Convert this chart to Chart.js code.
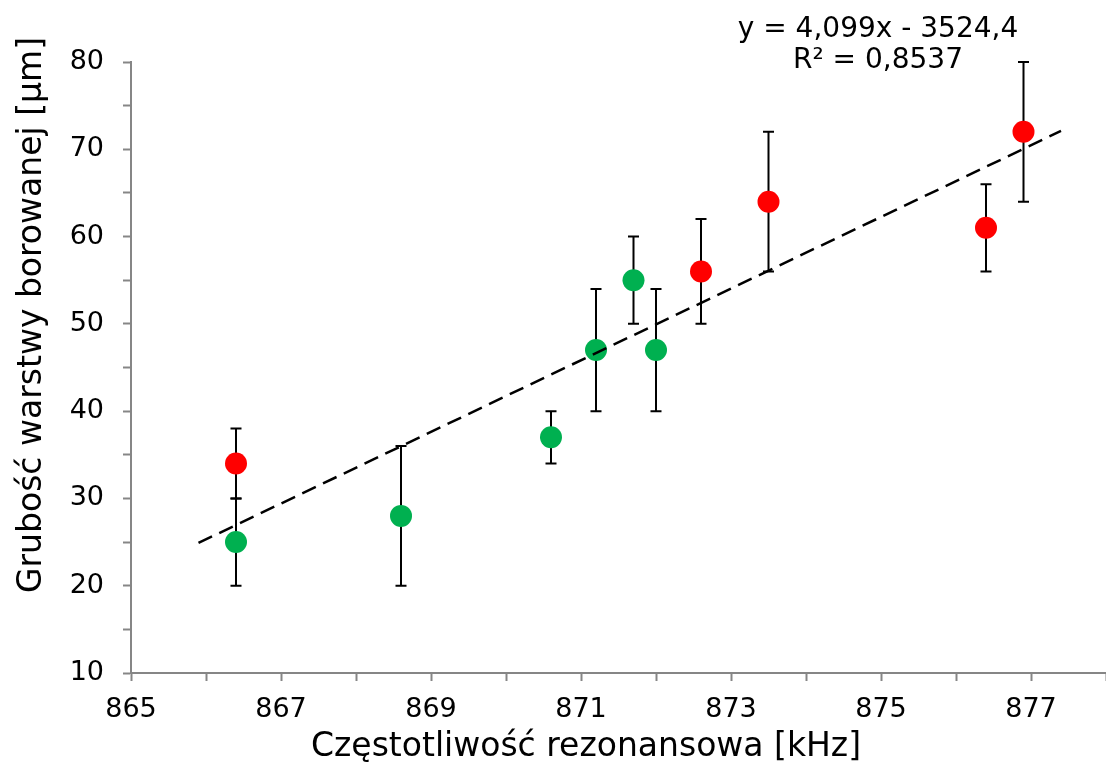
<!DOCTYPE html>
<html lang="pl">
<head>
<meta charset="UTF-8">
<title>Grubość warstwy borowanej</title>
<script src="https://cdn.jsdelivr.net/npm/chart.js"></script>
<style>
  html, body { margin: 0; padding: 0; background: #fff; }
  #wrap { width: 1106px; height: 778px; }
</style>
</head>
<body>
<div id="wrap"><canvas id="chart"></canvas></div>
<script>
// pomiary - punkty czerwone
const redX = [866.4, 872.6, 873.5, 876.4, 876.9];
const redY = [34, 56, 64, 61, 72];
const redLow = [30, 50, 56, 56, 64];
const redHigh = [38, 62, 72, 66, 80];

// pomiary - punkty zielone
const greenX = [866.4, 868.6, 870.6, 871.2, 871.7, 872.0];
const greenY = [25, 28, 37, 47, 55, 47];
const greenLow = [20, 20, 34, 40, 50, 40];
const greenHigh = [30, 36, 40, 54, 60, 54];

// linia trendu
const trendX = [865.9, 877.4];
const trendY = [24.9, 72.1];

const equation = ['y = 4,099x - 3524,4', 'R² = 0,8537'];
const xTitle = 'Częstotliwość rezonansowa [kHz]';
const yTitle = 'Grubość warstwy borowanej [µm]';

const FONT = "'DejaVu Sans', Verdana, sans-serif";
const toPoints = (xs, ys) => xs.map((x, i) => ({ x: x, y: ys[i] }));

// słupki błędów pod punktami
const errorBars = {
  id: 'errorBars',
  beforeDatasetsDraw(chart) {
    const { ctx, scales: { x, y } } = chart;
    ctx.save();
    ctx.strokeStyle = '#000';
    ctx.lineWidth = 2;
    chart.data.datasets.forEach(ds => {
      if (!ds.errLow) return;
      ds.data.forEach((p, i) => {
        const px = x.getPixelForValue(p.x);
        const lo = y.getPixelForValue(ds.errLow[i]);
        const hi = y.getPixelForValue(ds.errHigh[i]);
        ctx.beginPath();
        ctx.moveTo(px, lo); ctx.lineTo(px, hi);
        ctx.moveTo(px - 5.5, lo); ctx.lineTo(px + 5.5, lo);
        ctx.moveTo(px - 5.5, hi); ctx.lineTo(px + 5.5, hi);
        ctx.stroke();
      });
    });
    ctx.restore();
  }
};

// tytuły osi i równanie
const labels = {
  id: 'labels',
  afterDraw(chart) {
    const ctx = chart.ctx;
    ctx.save();
    ctx.fillStyle = '#000';
    ctx.textAlign = 'center';
    ctx.textBaseline = 'middle';
    ctx.font = '28px ' + FONT;
    ctx.fillText(equation[0], 878, 30);
    ctx.fillText(equation[1], 878, 61);
    ctx.font = '33px ' + FONT;
    ctx.fillText(xTitle, 586, 747);
    ctx.translate(32, 315);
    ctx.rotate(-Math.PI / 2);
    ctx.fillText(yTitle, 0, 0);
    ctx.restore();
  }
};

const axisColor = '#868686';

new Chart(document.getElementById('chart'), {
  type: 'scatter',
  data: {
    datasets: [
      {
        label: 'trend',
        type: 'line',
        data: toPoints(trendX, trendY),
        borderColor: '#000',
        borderWidth: 2.5,
        borderDash: [15, 8],
        pointRadius: 0,
        fill: false,
        order: 0
      },
      {
        label: 'czerwone',
        data: toPoints(redX, redY),
        errLow: redLow,
        errHigh: redHigh,
        backgroundColor: '#ff0000',
        borderWidth: 0,
        pointRadius: 11,
        order: 1
      },
      {
        label: 'zielone',
        data: toPoints(greenX, greenY),
        errLow: greenLow,
        errHigh: greenHigh,
        backgroundColor: '#00b050',
        borderWidth: 0,
        pointRadius: 11,
        order: 1
      }
    ]
  },
  options: {
    responsive: true,
    maintainAspectRatio: false,
    animation: false,
    layout: { autoPadding: false, padding: { top: 62, right: 0, left: 0, bottom: 0 } },
    plugins: { legend: { display: false }, tooltip: { enabled: false } },
    scales: {
      x: {
        type: 'linear',
        min: 865,
        max: 878,
        afterFit: s => { s.height = 105; s.paddingLeft = 0; s.paddingRight = 0; },
        border: { color: axisColor, width: 2 },
        grid: { drawOnChartArea: false, tickLength: 8, tickColor: axisColor, tickWidth: 2 },
        ticks: {
          stepSize: 1,
          autoSkip: false,
          maxRotation: 0,
          padding: 13,
          color: '#000',
          font: { family: FONT, size: 27 },
          callback: v => (v % 2 === 1 ? v : '')
        }
      },
      y: {
        min: 10,
        max: 80,
        afterFit: s => { s.width = 131; },
        border: { color: axisColor, width: 2 },
        grid: { drawOnChartArea: false, tickLength: 8, tickColor: axisColor, tickWidth: 2 },
        ticks: {
          stepSize: 5,
          autoSkip: false,
          padding: 19,
          color: '#000',
          font: { family: FONT, size: 27 },
          callback: v => (v % 10 === 0 ? v : '')
        }
      }
    }
  },
  plugins: [errorBars, labels]
});
</script>
</body>
</html>
